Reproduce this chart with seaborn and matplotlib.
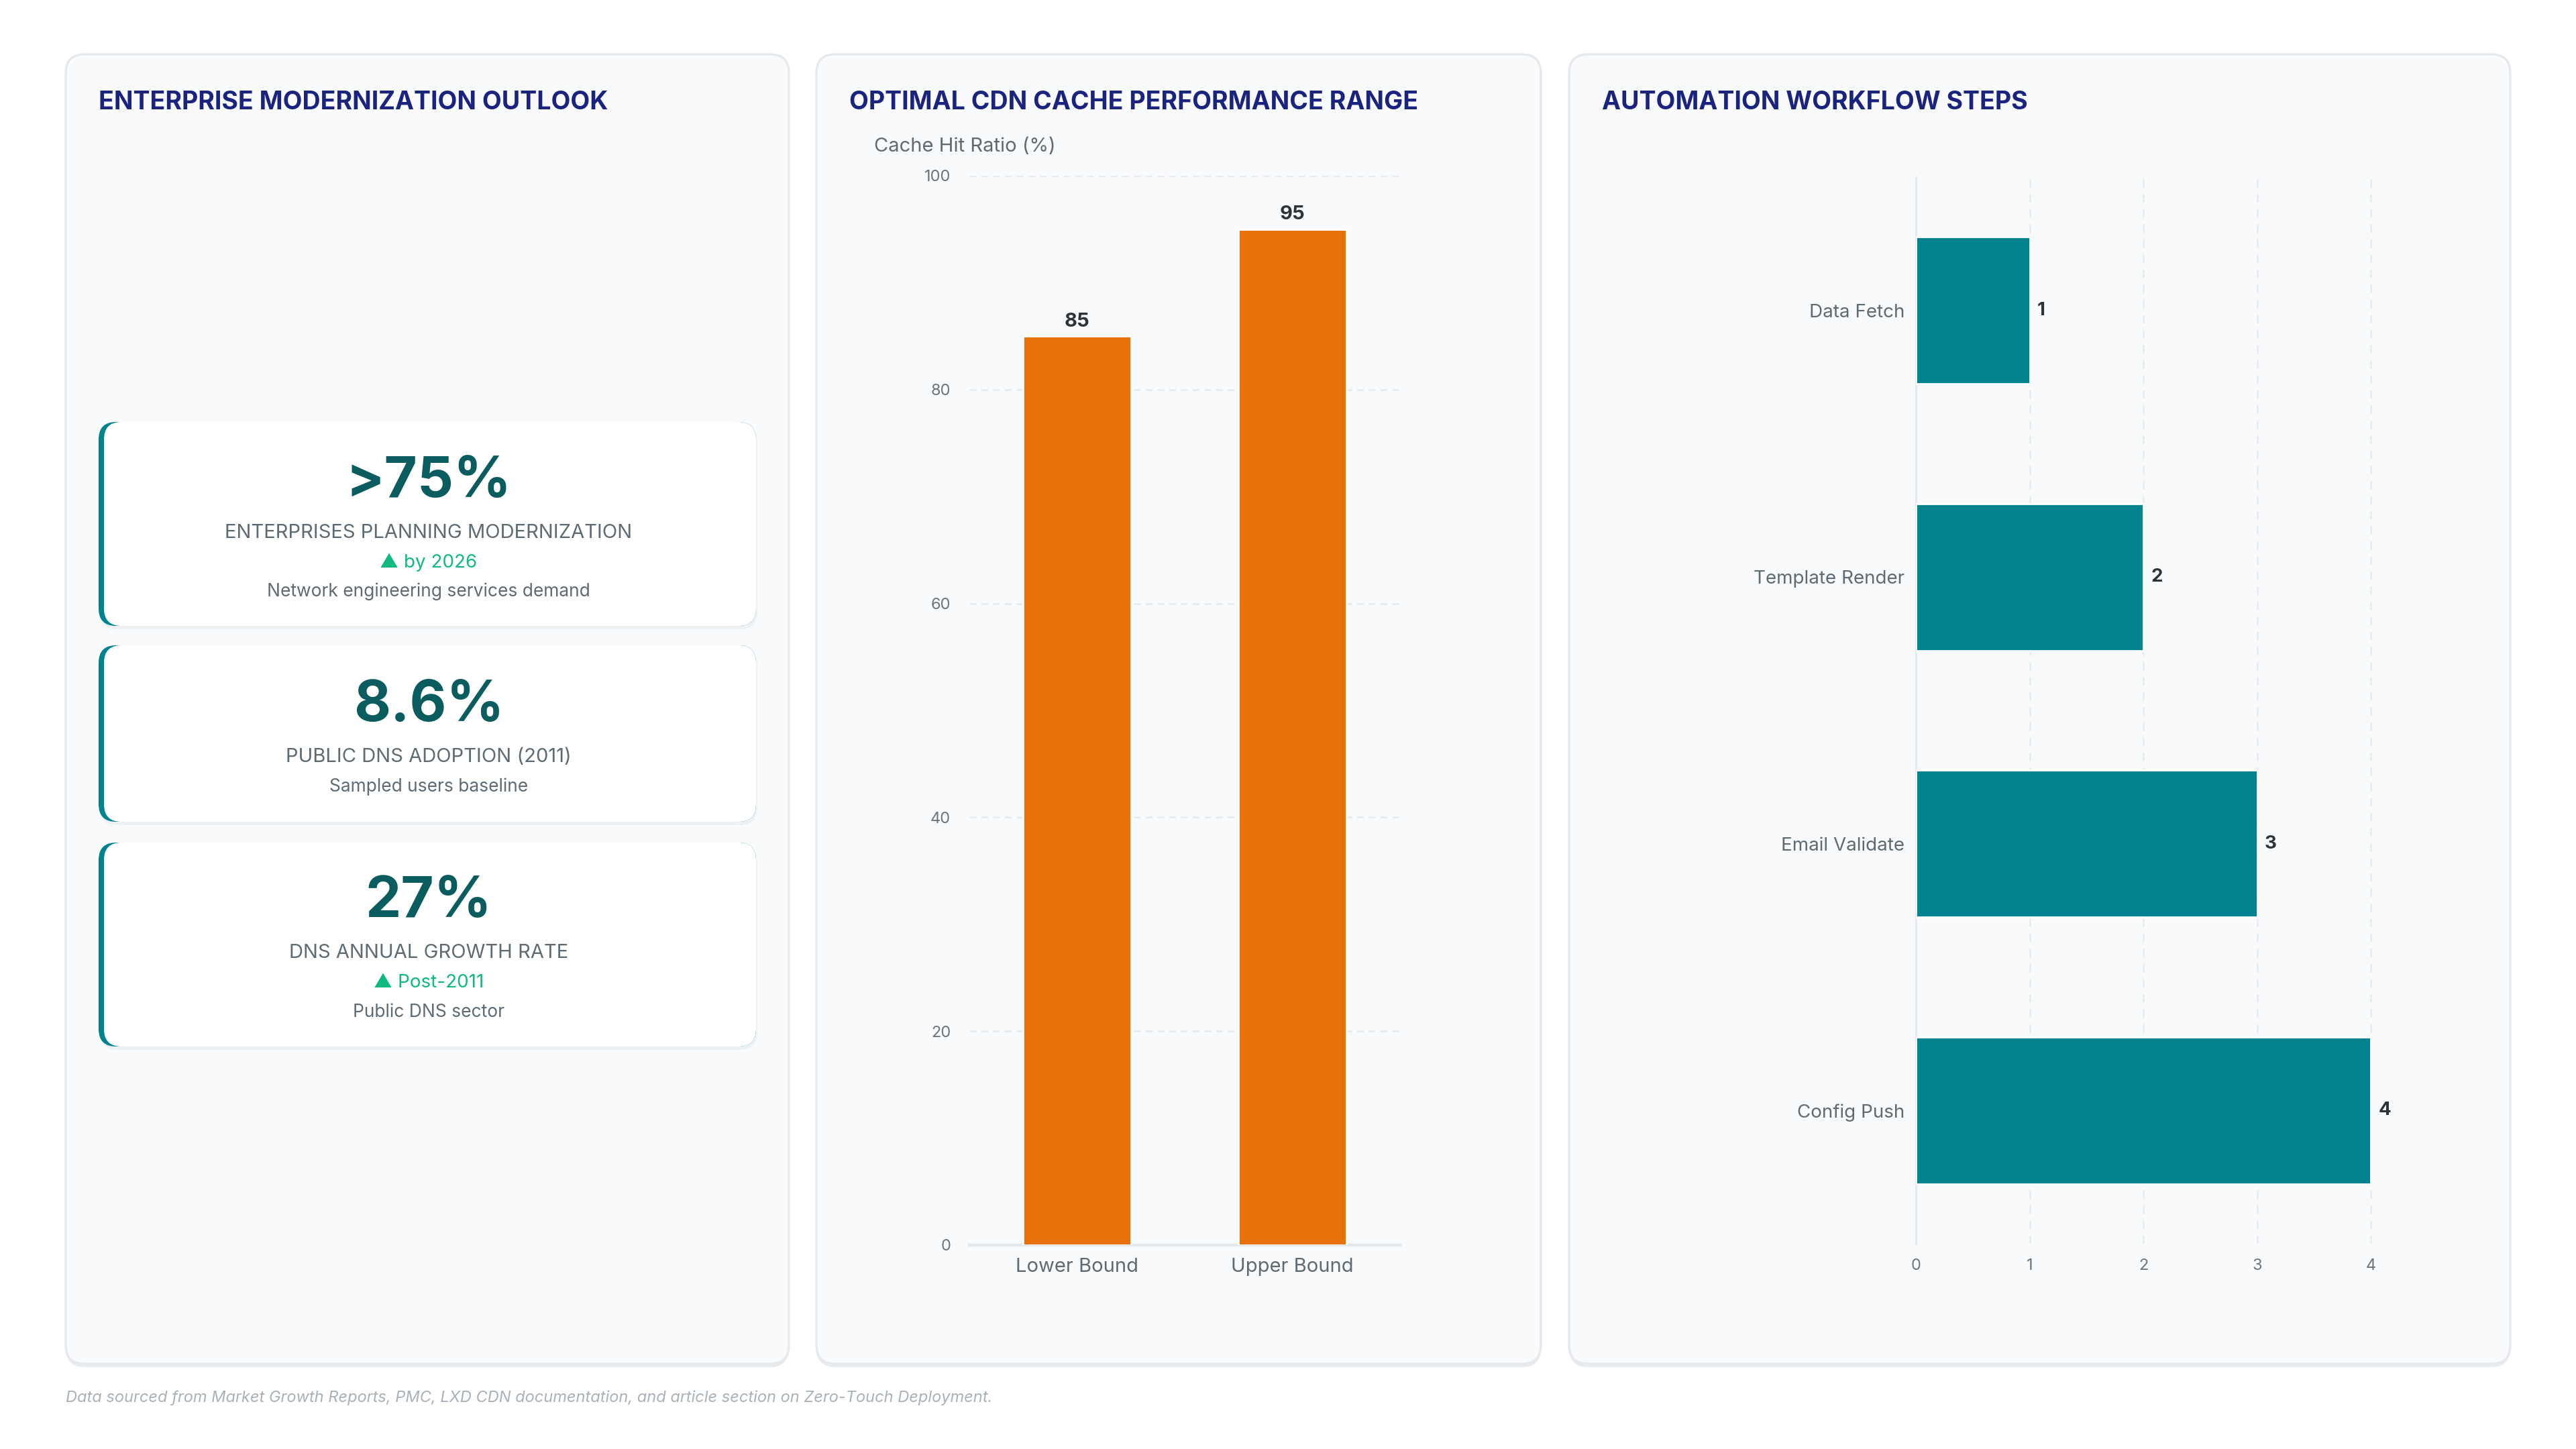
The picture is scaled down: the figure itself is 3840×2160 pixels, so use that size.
import matplotlib
matplotlib.use("Agg")
import matplotlib.pyplot as plt
from matplotlib.patches import FancyBboxPatch
import pandas as pd
import seaborn as sns

# data
cdn_labels = ["Lower Bound", "Upper Bound"]
cdn_values = [85, 95]

step_labels = ["Data Fetch", "Template Render", "Email Validate", "Config Push"]
step_values = [1, 2, 3, 4]

kpi_values = [">75%", "8.6%", "27%"]
kpi_labels = ["ENTERPRISES PLANNING MODERNIZATION", "PUBLIC DNS ADOPTION (2011)", "DNS ANNUAL GROWTH RATE"]
kpi_trends = ["\u25B2 by 2026", None, "\u25B2 Post-2011"]
kpi_notes = ["Network engineering services demand", "Sampled users baseline", "Public DNS sector"]

sns.set_theme(style="white")
plt.rcParams["font.family"] = ["Inter", "DejaVu Sans"]

NAVY = "#1a237e"
ORANGE = "#e8710a"
TEAL = "#00838f"
DARK_TEAL = "#0b5c5e"
GREEN = "#10b981"
GRAY = "#5f6b73"
TICK = "#6b757e"
PANEL = "#f8fafc"
EDGE = "#e6e9ed"

fig = plt.figure(figsize=(19.2, 10.8), dpi=200, facecolor="white")

# background canvas in pixel coordinates
bg = fig.add_axes([0, 0, 1, 1])
bg.set_xlim(0, 3840)
bg.set_ylim(2160, 0)
bg.axis("off")


def box(x0, y0, x1, y1, fc, ec="none", r=25, lw=1.2, z=1):
    p = FancyBboxPatch((x0, y0), x1 - x0, y1 - y0,
                       boxstyle=f"round,pad=0,rounding_size={r}",
                       fc=fc, ec=ec, lw=lw, zorder=z)
    bg.add_patch(p)


panels = [(98, 1176), (1217, 2297), (2339, 3742)]
titles = ["ENTERPRISE MODERNIZATION OUTLOOK", "OPTIMAL CDN CACHE PERFORMANCE RANGE", "AUTOMATION WORKFLOW STEPS"]
for (x0, x1), t in zip(panels, titles):
    box(x0, 86, x1, 2038, "#e9ecef", r=28, z=0.5)
    box(x0, 81, x1, 2033, PANEL, ec=EDGE, r=28, z=1)
    bg.text(x0 + 49, 153, t, fontsize=13.5, fontweight="bold", color=NAVY,
            va="center", ha="left", zorder=3)

# kpi cards
cards = [(629, 933), (962, 1225), (1256, 1560)]
cx = 639
for i, (y0, y1) in enumerate(cards):
    box(149, y0 + 5, 1129, y1 + 5, "#eef1f4", r=26, z=1.5)
    box(147, y0, 1127, y1, TEAL, r=26, z=2)
    box(155, y0, 1127, y1, "white", r=26, z=2.2)
    big_y = y0 + 89 if kpi_trends[i] else y0 + 91
    bg.text(cx, big_y, kpi_values[i], fontsize=30.5, fontweight="bold", color=DARK_TEAL,
            ha="center", va="center", zorder=3)
    bg.text(cx, big_y + 76, kpi_labels[i], fontsize=10.5, color=GRAY,
            ha="center", va="center", zorder=3)
    ny = big_y + 120
    if kpi_trends[i]:
        bg.text(cx, ny, kpi_trends[i], fontsize=10, color=GREEN,
                ha="center", va="center", zorder=3)
        ny += 44
    bg.text(cx, ny, kpi_notes[i], fontsize=9.5, color=GRAY,
            ha="center", va="center", zorder=3)

# CDN cache bar chart
df_cdn = pd.DataFrame({"bound": cdn_labels, "ratio": cdn_values})
ax1 = fig.add_axes([1445 / 3840, 1 - 1856 / 2160, 642 / 3840, 1594 / 2160])
ax1.set_facecolor("none")
sns.barplot(data=df_cdn, x="bound", y="ratio", color=ORANGE, saturation=1,
            width=0.5, ax=ax1, zorder=3)
ax1.set_ylim(0, 100)
ax1.set_xlim(-0.5, 1.5)
ax1.set_yticks([0, 20, 40, 60, 80, 100])
ax1.yaxis.grid(True, color="#e6e9ed", linestyle=(0, (4, 3)), linewidth=0.9)
ax1.set_axisbelow(True)
for s in ["top", "right", "left"]:
    ax1.spines[s].set_visible(False)
ax1.spines["bottom"].set_color("#e3e6ea")
ax1.spines["bottom"].set_linewidth(1.6)
ax1.tick_params(axis="y", length=0, labelsize=8.5, labelcolor=TICK, pad=10)
ax1.tick_params(axis="x", length=0, labelsize=10.5, labelcolor=GRAY, pad=7)
ax1.set_xlabel("")
ax1.set_ylabel("")
ax1.bar_label(ax1.containers[0], fontsize=10.5, fontweight="bold", color="#2d3436", padding=3)
bg.text(1303, 218, "Cache Hit Ratio (%)", fontsize=10.5, color=GRAY, ha="left", va="center", zorder=3)

# automation steps horizontal bars
df_steps = pd.DataFrame({"step": step_labels, "count": step_values})
ax2 = fig.add_axes([2856 / 3840, 1 - 1854 / 2160, 746 / 3840, 1590 / 2160])
ax2.set_facecolor("none")
sns.barplot(data=df_steps, y="step", x="count", color=TEAL, saturation=1,
            width=0.55, orient="h", ax=ax2, zorder=3)
ax2.set_xlim(0, 4.4)
ax2.set_ylim(3.5, -0.5)
ax2.set_xticks([0, 1, 2, 3, 4])
ax2.xaxis.grid(True, color="#e8ebee", linestyle=(0, (5, 4)), linewidth=0.9)
ax2.set_axisbelow(True)
for s in ["top", "right", "bottom"]:
    ax2.spines[s].set_visible(False)
ax2.spines["left"].set_color("#e6e9ed")
ax2.spines["left"].set_linewidth(1.0)
ax2.tick_params(axis="x", length=0, labelsize=8.5, labelcolor=TICK, pad=8)
ax2.tick_params(axis="y", length=0, labelsize=10, labelcolor=GRAY, pad=6)
ax2.set_xlabel("")
ax2.set_ylabel("")
ax2.bar_label(ax2.containers[0], fontsize=10, fontweight="bold", color="#2d3436", padding=4)

bg.text(98, 2084, "Data sourced from Market Growth Reports, PMC, LXD CDN documentation, and article section on Zero-Touch Deployment.",
        fontsize=8.5, style="italic", color="#a9b1b9", ha="left", va="center", zorder=3)

fig.savefig("out.png", dpi=200, facecolor="white")
